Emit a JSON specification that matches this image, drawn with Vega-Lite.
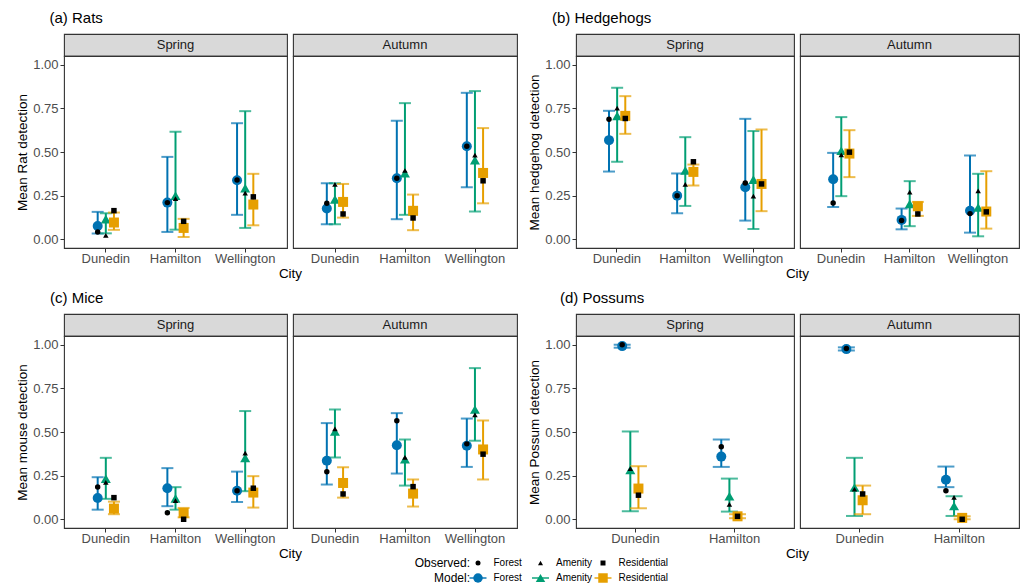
{
"$schema": "https://vega.github.io/schema/vega-lite/v6.json",
"background": "white",
"padding": {"left": 15, "top": 10, "right": 0, "bottom": 0},
"datasets": {
"d": [
{"S":"Rats","Season":"Spring","City":"Dunedin","Hab":"Forest","est":0.076,"lo":0.033,"hi":0.157,"obs":0.042},
{"S":"Rats","Season":"Spring","City":"Dunedin","Hab":"Amenity","est":0.115,"lo":0.034,"hi":0.149,"obs":0.023},
{"S":"Rats","Season":"Spring","City":"Dunedin","Hab":"Residential","est":0.096,"lo":0.054,"hi":0.153,"obs":0.164},
{"S":"Rats","Season":"Spring","City":"Hamilton","Hab":"Forest","est":0.21,"lo":0.042,"hi":0.472,"obs":0.21},
{"S":"Rats","Season":"Spring","City":"Hamilton","Hab":"Amenity","est":0.25,"lo":0.055,"hi":0.616,"obs":0.233},
{"S":"Rats","Season":"Spring","City":"Hamilton","Hab":"Residential","est":0.065,"lo":0.013,"hi":0.117,"obs":0.103},
{"S":"Rats","Season":"Spring","City":"Wellington","Hab":"Forest","est":0.338,"lo":0.14,"hi":0.665,"obs":0.34},
{"S":"Rats","Season":"Spring","City":"Wellington","Hab":"Amenity","est":0.293,"lo":0.065,"hi":0.734,"obs":0.264},
{"S":"Rats","Season":"Spring","City":"Wellington","Hab":"Residential","est":0.199,"lo":0.08,"hi":0.375,"obs":0.243},
{"S":"Rats","Season":"Autumn","City":"Dunedin","Hab":"Forest","est":0.176,"lo":0.086,"hi":0.321,"obs":0.206},
{"S":"Rats","Season":"Autumn","City":"Dunedin","Hab":"Amenity","est":0.229,"lo":0.086,"hi":0.321,"obs":0.315},
{"S":"Rats","Season":"Autumn","City":"Dunedin","Hab":"Residential","est":0.214,"lo":0.124,"hi":0.317,"obs":0.145},
{"S":"Rats","Season":"Autumn","City":"Hamilton","Hab":"Forest","est":0.35,"lo":0.115,"hi":0.679,"obs":0.35},
{"S":"Rats","Season":"Autumn","City":"Hamilton","Hab":"Amenity","est":0.379,"lo":0.14,"hi":0.78,"obs":0.394},
{"S":"Rats","Season":"Autumn","City":"Hamilton","Hab":"Residential","est":0.163,"lo":0.052,"hi":0.256,"obs":0.122},
{"S":"Rats","Season":"Autumn","City":"Wellington","Hab":"Forest","est":0.533,"lo":0.298,"hi":0.839,"obs":0.533},
{"S":"Rats","Season":"Autumn","City":"Wellington","Hab":"Amenity","est":0.453,"lo":0.159,"hi":0.849,"obs":0.482},
{"S":"Rats","Season":"Autumn","City":"Wellington","Hab":"Residential","est":0.38,"lo":0.206,"hi":0.637,"obs":0.335},
{"S":"Hedgehogs","Season":"Spring","City":"Dunedin","Hab":"Forest","est":0.568,"lo":0.388,"hi":0.736,"obs":0.688},
{"S":"Hedgehogs","Season":"Spring","City":"Dunedin","Hab":"Amenity","est":0.707,"lo":0.444,"hi":0.868,"obs":0.751},
{"S":"Hedgehogs","Season":"Spring","City":"Dunedin","Hab":"Residential","est":0.707,"lo":0.604,"hi":0.82,"obs":0.692},
{"S":"Hedgehogs","Season":"Spring","City":"Hamilton","Hab":"Forest","est":0.25,"lo":0.149,"hi":0.377,"obs":0.25},
{"S":"Hedgehogs","Season":"Spring","City":"Hamilton","Hab":"Amenity","est":0.394,"lo":0.191,"hi":0.585,"obs":0.315},
{"S":"Hedgehogs","Season":"Spring","City":"Hamilton","Hab":"Residential","est":0.386,"lo":0.308,"hi":0.428,"obs":0.444},
{"S":"Hedgehogs","Season":"Spring","City":"Wellington","Hab":"Forest","est":0.298,"lo":0.107,"hi":0.69,"obs":0.323},
{"S":"Hedgehogs","Season":"Spring","City":"Wellington","Hab":"Amenity","est":0.342,"lo":0.059,"hi":0.62,"obs":0.247},
{"S":"Hedgehogs","Season":"Spring","City":"Wellington","Hab":"Residential","est":0.317,"lo":0.161,"hi":0.629,"obs":0.317},
{"S":"Hedgehogs","Season":"Autumn","City":"Dunedin","Hab":"Forest","est":0.344,"lo":0.185,"hi":0.495,"obs":0.208},
{"S":"Hedgehogs","Season":"Autumn","City":"Dunedin","Hab":"Amenity","est":0.507,"lo":0.247,"hi":0.7,"obs":0.484},
{"S":"Hedgehogs","Season":"Autumn","City":"Dunedin","Hab":"Residential","est":0.491,"lo":0.356,"hi":0.625,"obs":0.499},
{"S":"Hedgehogs","Season":"Autumn","City":"Hamilton","Hab":"Forest","est":0.111,"lo":0.057,"hi":0.176,"obs":0.107},
{"S":"Hedgehogs","Season":"Autumn","City":"Hamilton","Hab":"Amenity","est":0.203,"lo":0.075,"hi":0.333,"obs":0.27},
{"S":"Hedgehogs","Season":"Autumn","City":"Hamilton","Hab":"Residential","est":0.189,"lo":0.134,"hi":0.214,"obs":0.145},
{"S":"Hedgehogs","Season":"Autumn","City":"Wellington","Hab":"Forest","est":0.163,"lo":0.038,"hi":0.48,"obs":0.147},
{"S":"Hedgehogs","Season":"Autumn","City":"Wellington","Hab":"Amenity","est":0.182,"lo":0.017,"hi":0.375,"obs":0.277},
{"S":"Hedgehogs","Season":"Autumn","City":"Wellington","Hab":"Residential","est":0.159,"lo":0.061,"hi":0.39,"obs":0.157},
{"S":"Mice","Season":"Spring","City":"Dunedin","Hab":"Forest","est":0.122,"lo":0.055,"hi":0.241,"obs":0.185},
{"S":"Mice","Season":"Spring","City":"Dunedin","Hab":"Amenity","est":0.233,"lo":0.117,"hi":0.352,"obs":0.212},
{"S":"Mice","Season":"Spring","City":"Dunedin","Hab":"Residential","est":0.061,"lo":0.029,"hi":0.101,"obs":0.124},
{"S":"Mice","Season":"Spring","City":"Hamilton","Hab":"Forest","est":0.178,"lo":0.075,"hi":0.293,"obs":0.038},
{"S":"Mice","Season":"Spring","City":"Hamilton","Hab":"Amenity","est":0.12,"lo":0.055,"hi":0.184,"obs":0.107},
{"S":"Mice","Season":"Spring","City":"Hamilton","Hab":"Residential","est":0.036,"lo":0.011,"hi":0.065,"obs":0.0},
{"S":"Mice","Season":"Spring","City":"Wellington","Hab":"Forest","est":0.163,"lo":0.099,"hi":0.273,"obs":0.163},
{"S":"Mice","Season":"Spring","City":"Wellington","Hab":"Amenity","est":0.352,"lo":0.161,"hi":0.62,"obs":0.379},
{"S":"Mice","Season":"Spring","City":"Wellington","Hab":"Residential","est":0.153,"lo":0.067,"hi":0.247,"obs":0.178},
{"S":"Mice","Season":"Autumn","City":"Dunedin","Hab":"Forest","est":0.335,"lo":0.199,"hi":0.551,"obs":0.272},
{"S":"Mice","Season":"Autumn","City":"Dunedin","Hab":"Amenity","est":0.503,"lo":0.354,"hi":0.629,"obs":0.518},
{"S":"Mice","Season":"Autumn","City":"Dunedin","Hab":"Residential","est":0.208,"lo":0.124,"hi":0.298,"obs":0.145},
{"S":"Mice","Season":"Autumn","City":"Hamilton","Hab":"Forest","est":0.424,"lo":0.262,"hi":0.608,"obs":0.564},
{"S":"Mice","Season":"Autumn","City":"Hamilton","Hab":"Amenity","est":0.344,"lo":0.193,"hi":0.457,"obs":0.354},
{"S":"Mice","Season":"Autumn","City":"Hamilton","Hab":"Residential","est":0.147,"lo":0.073,"hi":0.228,"obs":0.187},
{"S":"Mice","Season":"Autumn","City":"Wellington","Hab":"Forest","est":0.421,"lo":0.3,"hi":0.577,"obs":0.432},
{"S":"Mice","Season":"Autumn","City":"Wellington","Hab":"Amenity","est":0.629,"lo":0.45,"hi":0.866,"obs":0.598},
{"S":"Mice","Season":"Autumn","City":"Wellington","Hab":"Residential","est":0.4,"lo":0.228,"hi":0.566,"obs":0.373},
{"S":"Possums","Season":"Spring","City":"Dunedin","Hab":"Forest","est":0.992,"lo":0.983,"hi":1.0,"obs":1.0},
{"S":"Possums","Season":"Spring","City":"Dunedin","Hab":"Amenity","est":0.283,"lo":0.046,"hi":0.503,"obs":0.29},
{"S":"Possums","Season":"Spring","City":"Dunedin","Hab":"Residential","est":0.176,"lo":0.063,"hi":0.304,"obs":0.138},
{"S":"Possums","Season":"Spring","City":"Hamilton","Hab":"Forest","est":0.359,"lo":0.3,"hi":0.457,"obs":0.415},
{"S":"Possums","Season":"Spring","City":"Hamilton","Hab":"Amenity","est":0.132,"lo":0.044,"hi":0.233,"obs":0.086},
{"S":"Possums","Season":"Spring","City":"Hamilton","Hab":"Residential","est":0.017,"lo":0.006,"hi":0.029,"obs":0.017},
{"S":"Possums","Season":"Autumn","City":"Dunedin","Hab":"Forest","est":0.975,"lo":0.967,"hi":0.985,"obs":0.979},
{"S":"Possums","Season":"Autumn","City":"Dunedin","Hab":"Amenity","est":0.182,"lo":0.019,"hi":0.352,"obs":0.172},
{"S":"Possums","Season":"Autumn","City":"Dunedin","Hab":"Residential","est":0.109,"lo":0.029,"hi":0.193,"obs":0.145},
{"S":"Possums","Season":"Autumn","City":"Hamilton","Hab":"Forest","est":0.226,"lo":0.184,"hi":0.302,"obs":0.164},
{"S":"Possums","Season":"Autumn","City":"Hamilton","Hab":"Amenity","est":0.076,"lo":0.019,"hi":0.132,"obs":0.126},
{"S":"Possums","Season":"Autumn","City":"Hamilton","Hab":"Residential","est":0.008,"lo":0.0,"hi":0.017,"obs":0.0}
],
"leg": [
{"R":"Observed","Hab":"Forest","T":"Observed:"},
{"R":"Observed","Hab":"Amenity","T":"Observed:"},
{"R":"Observed","Hab":"Residential","T":"Observed:"},
{"R":"Model","Hab":"Forest","T":"Model:"},
{"R":"Model","Hab":"Amenity","T":"Model:"},
{"R":"Model","Hab":"Residential","T":"Model:"}
]
},
"columns": 5,
"bounds": "flush",
"align": "each",
"spacing": {"row": 0, "column": 6},
"resolve": {"scale": {"x": "independent", "y": "independent"}},
"concat": [
{"width": 223, "height": 22, "data": {"values": [{"t": "Spring"}]}, "title": {"text": "(a) Rats", "dx": -14.5, "offset": 8}, "view": {"fill": "#D9D9D9", "stroke": "#333333", "strokeWidth": 1.1}, "mark": {"type": "text", "fontSize": 13, "color": "#1A1A1A", "baseline": "middle"}, "encoding": {"text": {"field": "t"}}},
{"width": 224, "height": 22, "data": {"values": [{"t": "Autumn"}]}, "view": {"fill": "#D9D9D9", "stroke": "#333333", "strokeWidth": 1.1}, "mark": {"type": "text", "fontSize": 13, "color": "#1A1A1A", "baseline": "middle"}, "encoding": {"text": {"field": "t"}}},
{"width": 47, "height": 22, "data": {"values": [{}]}, "view": {"stroke": null}, "mark": {"type": "text"}, "encoding": {"text": {"value": ""}}},
{"width": 218, "height": 22, "data": {"values": [{"t": "Spring"}]}, "title": {"text": "(b) Hedgehogs", "dx": -24, "offset": 8}, "view": {"fill": "#D9D9D9", "stroke": "#333333", "strokeWidth": 1.1}, "mark": {"type": "text", "fontSize": 13, "color": "#1A1A1A", "baseline": "middle"}, "encoding": {"text": {"field": "t"}}},
{"width": 219, "height": 22, "data": {"values": [{"t": "Autumn"}]}, "view": {"fill": "#D9D9D9", "stroke": "#333333", "strokeWidth": 1.1}, "mark": {"type": "text", "fontSize": 13, "color": "#1A1A1A", "baseline": "middle"}, "encoding": {"text": {"field": "t"}}},

{"width": 223, "height": 192, "data": {"name": "d"}, "transform": [{"filter": "datum.S == 'Rats' && datum.Season == 'Spring'"}], "view": {"stroke": "#333333", "strokeWidth": 1.1},
 "encoding": {"x": {"field": "City", "type": "nominal", "scale": {"paddingInner": 0.65, "paddingOuter": 0.425}, "axis": {"title": "City", "labelAngle": 0, "titleX": 226}},
  "xOffset": {"field": "Hab", "type": "nominal", "scale": {"domain": ["Forest", "Amenity", "Residential"]}},
  "color": {"field": "Hab", "type": "nominal", "scale": {"domain": ["Forest", "Amenity", "Residential"], "range": ["#0072B2", "#009E73", "#E69F00"]}}},
 "layer": [
  {"mark": {"type": "rule", "strokeWidth": 2}, "encoding": {"y": {"field": "lo", "type": "quantitative", "scale": {"domain": [-0.05, 1.05], "nice": false, "zero": false}, "axis": {"title": "Mean Rat detection", "values": [0, 0.25, 0.5, 0.75, 1], "format": ".2f"}}, "y2": {"field": "hi"}}},
  {"mark": {"type": "tick", "orient": "horizontal", "size": 12, "thickness": 2}, "encoding": {"y": {"field": "lo", "type": "quantitative", "axis": {"title": "Mean Rat detection", "values": [0, 0.25, 0.5, 0.75, 1], "format": ".2f"}}}},
  {"mark": {"type": "tick", "orient": "horizontal", "size": 12, "thickness": 2}, "encoding": {"y": {"field": "hi", "type": "quantitative", "axis": {"title": "Mean Rat detection", "values": [0, 0.25, 0.5, 0.75, 1], "format": ".2f"}}}},
  {"mark": {"type": "point", "filled": true, "size": 100, "opacity": 1}, "encoding": {"y": {"field": "est", "type": "quantitative", "axis": {"title": "Mean Rat detection", "values": [0, 0.25, 0.5, 0.75, 1], "format": ".2f"}}, "shape": {"field": "Hab", "type": "nominal", "scale": {"domain": ["Forest", "Amenity", "Residential"], "range": ["circle", "triangle-up", "square"]}}}},
  {"mark": {"type": "point", "filled": true, "size": 30, "opacity": 1}, "encoding": {"y": {"field": "obs", "type": "quantitative", "axis": {"title": "Mean Rat detection", "values": [0, 0.25, 0.5, 0.75, 1], "format": ".2f"}}, "color": {"value": "black"}, "shape": {"field": "Hab", "type": "nominal", "scale": {"domain": ["Forest", "Amenity", "Residential"], "range": ["circle", "triangle-up", "square"]}}}}
 ]},
{"width": 224, "height": 192, "data": {"name": "d"}, "transform": [{"filter": "datum.S == 'Rats' && datum.Season == 'Autumn'"}], "view": {"stroke": "#333333", "strokeWidth": 1.1},
 "encoding": {"x": {"field": "City", "type": "nominal", "scale": {"paddingInner": 0.65, "paddingOuter": 0.425}, "axis": {"title": null, "labelAngle": 0}},
  "xOffset": {"field": "Hab", "type": "nominal", "scale": {"domain": ["Forest", "Amenity", "Residential"]}},
  "color": {"field": "Hab", "type": "nominal", "scale": {"domain": ["Forest", "Amenity", "Residential"], "range": ["#0072B2", "#009E73", "#E69F00"]}}},
 "layer": [
  {"mark": {"type": "rule", "strokeWidth": 2}, "encoding": {"y": {"field": "lo", "type": "quantitative", "scale": {"domain": [-0.05, 1.05], "nice": false, "zero": false}, "axis": null}, "y2": {"field": "hi"}}},
  {"mark": {"type": "tick", "orient": "horizontal", "size": 12, "thickness": 2}, "encoding": {"y": {"field": "lo", "type": "quantitative", "axis": null}}},
  {"mark": {"type": "tick", "orient": "horizontal", "size": 12, "thickness": 2}, "encoding": {"y": {"field": "hi", "type": "quantitative", "axis": null}}},
  {"mark": {"type": "point", "filled": true, "size": 100, "opacity": 1}, "encoding": {"y": {"field": "est", "type": "quantitative", "axis": null}, "shape": {"field": "Hab", "type": "nominal", "scale": {"domain": ["Forest", "Amenity", "Residential"], "range": ["circle", "triangle-up", "square"]}}}},
  {"mark": {"type": "point", "filled": true, "size": 30, "opacity": 1}, "encoding": {"y": {"field": "obs", "type": "quantitative", "axis": null}, "color": {"value": "black"}, "shape": {"field": "Hab", "type": "nominal", "scale": {"domain": ["Forest", "Amenity", "Residential"], "range": ["circle", "triangle-up", "square"]}}}}
 ]},
{"width": 47, "height": 192, "data": {"values": [{}]}, "view": {"stroke": null}, "mark": {"type": "text"}, "encoding": {"text": {"value": ""}}},
{"width": 218, "height": 192, "data": {"name": "d"}, "transform": [{"filter": "datum.S == 'Hedgehogs' && datum.Season == 'Spring'"}], "view": {"stroke": "#333333", "strokeWidth": 1.1},
 "encoding": {"x": {"field": "City", "type": "nominal", "scale": {"paddingInner": 0.65, "paddingOuter": 0.425}, "axis": {"title": "City", "labelAngle": 0, "titleX": 221}},
  "xOffset": {"field": "Hab", "type": "nominal", "scale": {"domain": ["Forest", "Amenity", "Residential"]}},
  "color": {"field": "Hab", "type": "nominal", "scale": {"domain": ["Forest", "Amenity", "Residential"], "range": ["#0072B2", "#009E73", "#E69F00"]}}},
 "layer": [
  {"mark": {"type": "rule", "strokeWidth": 2}, "encoding": {"y": {"field": "lo", "type": "quantitative", "scale": {"domain": [-0.05, 1.05], "nice": false, "zero": false}, "axis": {"title": "Mean hedgehog detection", "values": [0, 0.25, 0.5, 0.75, 1], "format": ".2f"}}, "y2": {"field": "hi"}}},
  {"mark": {"type": "tick", "orient": "horizontal", "size": 12, "thickness": 2}, "encoding": {"y": {"field": "lo", "type": "quantitative", "axis": {"title": "Mean hedgehog detection", "values": [0, 0.25, 0.5, 0.75, 1], "format": ".2f"}}}},
  {"mark": {"type": "tick", "orient": "horizontal", "size": 12, "thickness": 2}, "encoding": {"y": {"field": "hi", "type": "quantitative", "axis": {"title": "Mean hedgehog detection", "values": [0, 0.25, 0.5, 0.75, 1], "format": ".2f"}}}},
  {"mark": {"type": "point", "filled": true, "size": 100, "opacity": 1}, "encoding": {"y": {"field": "est", "type": "quantitative", "axis": {"title": "Mean hedgehog detection", "values": [0, 0.25, 0.5, 0.75, 1], "format": ".2f"}}, "shape": {"field": "Hab", "type": "nominal", "scale": {"domain": ["Forest", "Amenity", "Residential"], "range": ["circle", "triangle-up", "square"]}}}},
  {"mark": {"type": "point", "filled": true, "size": 30, "opacity": 1}, "encoding": {"y": {"field": "obs", "type": "quantitative", "axis": {"title": "Mean hedgehog detection", "values": [0, 0.25, 0.5, 0.75, 1], "format": ".2f"}}, "color": {"value": "black"}, "shape": {"field": "Hab", "type": "nominal", "scale": {"domain": ["Forest", "Amenity", "Residential"], "range": ["circle", "triangle-up", "square"]}}}}
 ]},
{"width": 219, "height": 192, "data": {"name": "d"}, "transform": [{"filter": "datum.S == 'Hedgehogs' && datum.Season == 'Autumn'"}], "view": {"stroke": "#333333", "strokeWidth": 1.1},
 "encoding": {"x": {"field": "City", "type": "nominal", "scale": {"paddingInner": 0.65, "paddingOuter": 0.425}, "axis": {"title": null, "labelAngle": 0}},
  "xOffset": {"field": "Hab", "type": "nominal", "scale": {"domain": ["Forest", "Amenity", "Residential"]}},
  "color": {"field": "Hab", "type": "nominal", "scale": {"domain": ["Forest", "Amenity", "Residential"], "range": ["#0072B2", "#009E73", "#E69F00"]}}},
 "layer": [
  {"mark": {"type": "rule", "strokeWidth": 2}, "encoding": {"y": {"field": "lo", "type": "quantitative", "scale": {"domain": [-0.05, 1.05], "nice": false, "zero": false}, "axis": null}, "y2": {"field": "hi"}}},
  {"mark": {"type": "tick", "orient": "horizontal", "size": 12, "thickness": 2}, "encoding": {"y": {"field": "lo", "type": "quantitative", "axis": null}}},
  {"mark": {"type": "tick", "orient": "horizontal", "size": 12, "thickness": 2}, "encoding": {"y": {"field": "hi", "type": "quantitative", "axis": null}}},
  {"mark": {"type": "point", "filled": true, "size": 100, "opacity": 1}, "encoding": {"y": {"field": "est", "type": "quantitative", "axis": null}, "shape": {"field": "Hab", "type": "nominal", "scale": {"domain": ["Forest", "Amenity", "Residential"], "range": ["circle", "triangle-up", "square"]}}}},
  {"mark": {"type": "point", "filled": true, "size": 30, "opacity": 1}, "encoding": {"y": {"field": "obs", "type": "quantitative", "axis": null}, "color": {"value": "black"}, "shape": {"field": "Hab", "type": "nominal", "scale": {"domain": ["Forest", "Amenity", "Residential"], "range": ["circle", "triangle-up", "square"]}}}}
 ]},

{"width": 223, "height": 66, "data": {"values": [{}]}, "view": {"stroke": null}, "mark": {"type": "text"}, "encoding": {"text": {"value": ""}}},
{"width": 224, "height": 66, "data": {"values": [{}]}, "view": {"stroke": null}, "mark": {"type": "text"}, "encoding": {"text": {"value": ""}}},
{"width": 47, "height": 66, "data": {"values": [{}]}, "view": {"stroke": null}, "mark": {"type": "text"}, "encoding": {"text": {"value": ""}}},
{"width": 218, "height": 66, "data": {"values": [{}]}, "view": {"stroke": null}, "mark": {"type": "text"}, "encoding": {"text": {"value": ""}}},
{"width": 219, "height": 66, "data": {"values": [{}]}, "view": {"stroke": null}, "mark": {"type": "text"}, "encoding": {"text": {"value": ""}}},

{"width": 223, "height": 22, "data": {"values": [{"t": "Spring"}]}, "title": {"text": "(c) Mice", "dx": -14, "offset": 8}, "view": {"fill": "#D9D9D9", "stroke": "#333333", "strokeWidth": 1.1}, "mark": {"type": "text", "fontSize": 13, "color": "#1A1A1A", "baseline": "middle"}, "encoding": {"text": {"field": "t"}}},
{"width": 224, "height": 22, "data": {"values": [{"t": "Autumn"}]}, "view": {"fill": "#D9D9D9", "stroke": "#333333", "strokeWidth": 1.1}, "mark": {"type": "text", "fontSize": 13, "color": "#1A1A1A", "baseline": "middle"}, "encoding": {"text": {"field": "t"}}},
{"width": 47, "height": 22, "data": {"values": [{}]}, "view": {"stroke": null}, "mark": {"type": "text"}, "encoding": {"text": {"value": ""}}},
{"width": 218, "height": 22, "data": {"values": [{"t": "Spring"}]}, "title": {"text": "(d) Possums", "dx": -16, "offset": 8}, "view": {"fill": "#D9D9D9", "stroke": "#333333", "strokeWidth": 1.1}, "mark": {"type": "text", "fontSize": 13, "color": "#1A1A1A", "baseline": "middle"}, "encoding": {"text": {"field": "t"}}},
{"width": 219, "height": 22, "data": {"values": [{"t": "Autumn"}]}, "view": {"fill": "#D9D9D9", "stroke": "#333333", "strokeWidth": 1.1}, "mark": {"type": "text", "fontSize": 13, "color": "#1A1A1A", "baseline": "middle"}, "encoding": {"text": {"field": "t"}}},

{"width": 223, "height": 192, "data": {"name": "d"}, "transform": [{"filter": "datum.S == 'Mice' && datum.Season == 'Spring'"}], "view": {"stroke": "#333333", "strokeWidth": 1.1},
 "encoding": {"x": {"field": "City", "type": "nominal", "scale": {"paddingInner": 0.65, "paddingOuter": 0.425}, "axis": {"title": "City", "labelAngle": 0, "titleX": 226}},
  "xOffset": {"field": "Hab", "type": "nominal", "scale": {"domain": ["Forest", "Amenity", "Residential"]}},
  "color": {"field": "Hab", "type": "nominal", "scale": {"domain": ["Forest", "Amenity", "Residential"], "range": ["#0072B2", "#009E73", "#E69F00"]}}},
 "layer": [
  {"mark": {"type": "rule", "strokeWidth": 2}, "encoding": {"y": {"field": "lo", "type": "quantitative", "scale": {"domain": [-0.05, 1.05], "nice": false, "zero": false}, "axis": {"title": "Mean mouse detection", "values": [0, 0.25, 0.5, 0.75, 1], "format": ".2f"}}, "y2": {"field": "hi"}}},
  {"mark": {"type": "tick", "orient": "horizontal", "size": 12, "thickness": 2}, "encoding": {"y": {"field": "lo", "type": "quantitative", "axis": {"title": "Mean mouse detection", "values": [0, 0.25, 0.5, 0.75, 1], "format": ".2f"}}}},
  {"mark": {"type": "tick", "orient": "horizontal", "size": 12, "thickness": 2}, "encoding": {"y": {"field": "hi", "type": "quantitative", "axis": {"title": "Mean mouse detection", "values": [0, 0.25, 0.5, 0.75, 1], "format": ".2f"}}}},
  {"mark": {"type": "point", "filled": true, "size": 100, "opacity": 1}, "encoding": {"y": {"field": "est", "type": "quantitative", "axis": {"title": "Mean mouse detection", "values": [0, 0.25, 0.5, 0.75, 1], "format": ".2f"}}, "shape": {"field": "Hab", "type": "nominal", "scale": {"domain": ["Forest", "Amenity", "Residential"], "range": ["circle", "triangle-up", "square"]}}}},
  {"mark": {"type": "point", "filled": true, "size": 30, "opacity": 1}, "encoding": {"y": {"field": "obs", "type": "quantitative", "axis": {"title": "Mean mouse detection", "values": [0, 0.25, 0.5, 0.75, 1], "format": ".2f"}}, "color": {"value": "black"}, "shape": {"field": "Hab", "type": "nominal", "scale": {"domain": ["Forest", "Amenity", "Residential"], "range": ["circle", "triangle-up", "square"]}}}}
 ]},
{"width": 224, "height": 192, "data": {"name": "d"}, "transform": [{"filter": "datum.S == 'Mice' && datum.Season == 'Autumn'"}], "view": {"stroke": "#333333", "strokeWidth": 1.1},
 "encoding": {"x": {"field": "City", "type": "nominal", "scale": {"paddingInner": 0.65, "paddingOuter": 0.425}, "axis": {"title": null, "labelAngle": 0}},
  "xOffset": {"field": "Hab", "type": "nominal", "scale": {"domain": ["Forest", "Amenity", "Residential"]}},
  "color": {"field": "Hab", "type": "nominal", "scale": {"domain": ["Forest", "Amenity", "Residential"], "range": ["#0072B2", "#009E73", "#E69F00"]}}},
 "layer": [
  {"mark": {"type": "rule", "strokeWidth": 2}, "encoding": {"y": {"field": "lo", "type": "quantitative", "scale": {"domain": [-0.05, 1.05], "nice": false, "zero": false}, "axis": null}, "y2": {"field": "hi"}}},
  {"mark": {"type": "tick", "orient": "horizontal", "size": 12, "thickness": 2}, "encoding": {"y": {"field": "lo", "type": "quantitative", "axis": null}}},
  {"mark": {"type": "tick", "orient": "horizontal", "size": 12, "thickness": 2}, "encoding": {"y": {"field": "hi", "type": "quantitative", "axis": null}}},
  {"mark": {"type": "point", "filled": true, "size": 100, "opacity": 1}, "encoding": {"y": {"field": "est", "type": "quantitative", "axis": null}, "shape": {"field": "Hab", "type": "nominal", "scale": {"domain": ["Forest", "Amenity", "Residential"], "range": ["circle", "triangle-up", "square"]}}}},
  {"mark": {"type": "point", "filled": true, "size": 30, "opacity": 1}, "encoding": {"y": {"field": "obs", "type": "quantitative", "axis": null}, "color": {"value": "black"}, "shape": {"field": "Hab", "type": "nominal", "scale": {"domain": ["Forest", "Amenity", "Residential"], "range": ["circle", "triangle-up", "square"]}}}}
 ]},
{"width": 47, "height": 192, "data": {"values": [{}]}, "view": {"stroke": null}, "mark": {"type": "text"}, "encoding": {"text": {"value": ""}}},
{"width": 218, "height": 192, "data": {"name": "d"}, "transform": [{"filter": "datum.S == 'Possums' && datum.Season == 'Spring'"}], "view": {"stroke": "#333333", "strokeWidth": 1.1},
 "encoding": {"x": {"field": "City", "type": "nominal", "scale": {"paddingInner": 0.65, "paddingOuter": 0.425}, "axis": {"title": "City", "labelAngle": 0, "titleX": 221}},
  "xOffset": {"field": "Hab", "type": "nominal", "scale": {"domain": ["Forest", "Amenity", "Residential"]}},
  "color": {"field": "Hab", "type": "nominal", "scale": {"domain": ["Forest", "Amenity", "Residential"], "range": ["#0072B2", "#009E73", "#E69F00"]}}},
 "layer": [
  {"mark": {"type": "rule", "strokeWidth": 2}, "encoding": {"y": {"field": "lo", "type": "quantitative", "scale": {"domain": [-0.05, 1.05], "nice": false, "zero": false}, "axis": {"title": "Mean Possum detection", "values": [0, 0.25, 0.5, 0.75, 1], "format": ".2f"}}, "y2": {"field": "hi"}}},
  {"mark": {"type": "tick", "orient": "horizontal", "size": 17, "thickness": 2}, "encoding": {"y": {"field": "lo", "type": "quantitative", "axis": {"title": "Mean Possum detection", "values": [0, 0.25, 0.5, 0.75, 1], "format": ".2f"}}}},
  {"mark": {"type": "tick", "orient": "horizontal", "size": 17, "thickness": 2}, "encoding": {"y": {"field": "hi", "type": "quantitative", "axis": {"title": "Mean Possum detection", "values": [0, 0.25, 0.5, 0.75, 1], "format": ".2f"}}}},
  {"mark": {"type": "point", "filled": true, "size": 100, "opacity": 1}, "encoding": {"y": {"field": "est", "type": "quantitative", "axis": {"title": "Mean Possum detection", "values": [0, 0.25, 0.5, 0.75, 1], "format": ".2f"}}, "shape": {"field": "Hab", "type": "nominal", "scale": {"domain": ["Forest", "Amenity", "Residential"], "range": ["circle", "triangle-up", "square"]}}}},
  {"mark": {"type": "point", "filled": true, "size": 30, "opacity": 1}, "encoding": {"y": {"field": "obs", "type": "quantitative", "axis": {"title": "Mean Possum detection", "values": [0, 0.25, 0.5, 0.75, 1], "format": ".2f"}}, "color": {"value": "black"}, "shape": {"field": "Hab", "type": "nominal", "scale": {"domain": ["Forest", "Amenity", "Residential"], "range": ["circle", "triangle-up", "square"]}}}}
 ]},
{"width": 219, "height": 192, "data": {"name": "d"}, "transform": [{"filter": "datum.S == 'Possums' && datum.Season == 'Autumn'"}], "view": {"stroke": "#333333", "strokeWidth": 1.1},
 "encoding": {"x": {"field": "City", "type": "nominal", "scale": {"paddingInner": 0.65, "paddingOuter": 0.425}, "axis": {"title": null, "labelAngle": 0}},
  "xOffset": {"field": "Hab", "type": "nominal", "scale": {"domain": ["Forest", "Amenity", "Residential"]}},
  "color": {"field": "Hab", "type": "nominal", "scale": {"domain": ["Forest", "Amenity", "Residential"], "range": ["#0072B2", "#009E73", "#E69F00"]}}},
 "layer": [
  {"mark": {"type": "rule", "strokeWidth": 2}, "encoding": {"y": {"field": "lo", "type": "quantitative", "scale": {"domain": [-0.05, 1.05], "nice": false, "zero": false}, "axis": null}, "y2": {"field": "hi"}}},
  {"mark": {"type": "tick", "orient": "horizontal", "size": 17, "thickness": 2}, "encoding": {"y": {"field": "lo", "type": "quantitative", "axis": null}}},
  {"mark": {"type": "tick", "orient": "horizontal", "size": 17, "thickness": 2}, "encoding": {"y": {"field": "hi", "type": "quantitative", "axis": null}}},
  {"mark": {"type": "point", "filled": true, "size": 100, "opacity": 1}, "encoding": {"y": {"field": "est", "type": "quantitative", "axis": null}, "shape": {"field": "Hab", "type": "nominal", "scale": {"domain": ["Forest", "Amenity", "Residential"], "range": ["circle", "triangle-up", "square"]}}}},
  {"mark": {"type": "point", "filled": true, "size": 30, "opacity": 1}, "encoding": {"y": {"field": "obs", "type": "quantitative", "axis": null}, "color": {"value": "black"}, "shape": {"field": "Hab", "type": "nominal", "scale": {"domain": ["Forest", "Amenity", "Residential"], "range": ["circle", "triangle-up", "square"]}}}}
 ]},

{"width": 223, "height": 56, "data": {"values": [{}]}, "view": {"stroke": null}, "mark": {"type": "text"}, "encoding": {"text": {"value": ""}}},
{"width": 224, "height": 56, "data": {"values": [{}]}, "view": {"stroke": null}, "mark": {"type": "text"}, "encoding": {"text": {"value": ""}}},
{"width": 47, "height": 56, "data": {"name": "leg"}, "view": {"stroke": null},
 "encoding": {"x": {"field": "Hab", "type": "nominal", "scale": {"type": "point", "padding": 0, "domain": ["Forest", "Amenity", "Residential"], "range": [-45, 80]}, "axis": null},
  "y": {"field": "R", "type": "nominal", "scale": {"type": "point", "padding": 0, "domain": ["Observed", "Model"], "range": [35, 50]}, "axis": null}},
 "layer": [
  {"transform": [{"filter": "datum.R == 'Model'"}], "mark": {"type": "tick", "orient": "horizontal", "size": 17, "thickness": 2}, "encoding": {"color": {"field": "Hab", "type": "nominal", "scale": {"domain": ["Forest", "Amenity", "Residential"], "range": ["#0072B2", "#009E73", "#E69F00"]}}}},
  {"transform": [{"filter": "datum.R == 'Model'"}], "mark": {"type": "point", "filled": true, "size": 90, "opacity": 1}, "encoding": {"color": {"field": "Hab", "type": "nominal", "scale": {"domain": ["Forest", "Amenity", "Residential"], "range": ["#0072B2", "#009E73", "#E69F00"]}}, "shape": {"field": "Hab", "type": "nominal", "scale": {"domain": ["Forest", "Amenity", "Residential"], "range": ["circle", "triangle-up", "square"]}}}},
  {"transform": [{"filter": "datum.R == 'Observed'"}], "mark": {"type": "point", "filled": true, "size": 25, "opacity": 1, "color": "black"}, "encoding": {"shape": {"field": "Hab", "type": "nominal", "scale": {"domain": ["Forest", "Amenity", "Residential"], "range": ["circle", "triangle-up", "square"]}}}},
  {"mark": {"type": "text", "align": "left", "baseline": "middle", "dx": 15.5, "fontSize": 10, "color": "black"}, "encoding": {"text": {"field": "Hab"}}},
  {"transform": [{"filter": "datum.Hab == 'Forest'"}], "mark": {"type": "text", "align": "right", "baseline": "middle", "dx": -8, "fontSize": 12, "color": "black"}, "encoding": {"text": {"field": "T"}}}
 ]},
{"width": 218, "height": 56, "data": {"values": [{}]}, "view": {"stroke": null}, "mark": {"type": "text"}, "encoding": {"text": {"value": ""}}},
{"width": 219, "height": 56, "data": {"values": [{}]}, "view": {"stroke": null}, "mark": {"type": "text"}, "encoding": {"text": {"value": ""}}}
],
"config": {
 "font": "Liberation Sans",
 "legend": {"disable": true},
 "axis": {"grid": false, "domain": false, "tickColor": "#333333", "tickSize": 4, "tickWidth": 1, "labelColor": "#4D4D4D", "labelFontSize": 13, "titleColor": "#000000", "titleFontSize": 13.5, "titleFontWeight": "normal"},
 "axisX": {"labelPadding": 0, "titlePadding": 1},
 "axisY": {"labelPadding": 2, "titlePadding": 3},
 "title": {"fontSize": 15, "fontWeight": "normal", "color": "#000000", "anchor": "start"}
}
}
